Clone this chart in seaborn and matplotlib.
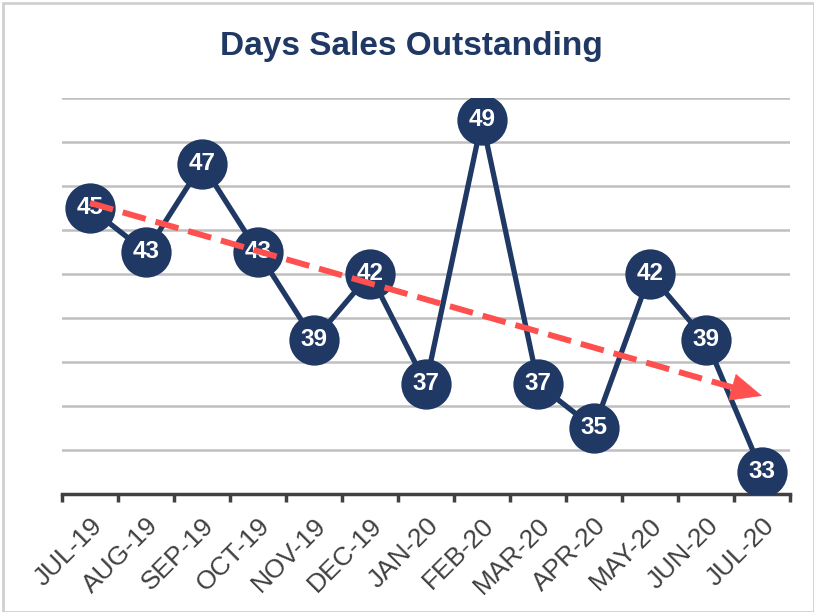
import numpy as np
import pandas as pd
import matplotlib
matplotlib.use('Agg')
import matplotlib.pyplot as plt
import seaborn as sns

months = ['JUL-19', 'AUG-19', 'SEP-19', 'OCT-19', 'NOV-19', 'DEC-19', 'JAN-20',
          'FEB-20', 'MAR-20', 'APR-20', 'MAY-20', 'JUN-20', 'JUL-20']
dso = [45, 43, 47, 43, 39, 42, 37, 49, 37, 35, 42, 39, 33]

navy = '#1F3864'
red = '#FF5050'

sns.set_theme(style='white')
plt.rcParams['font.family'] = ['Liberation Sans', 'DejaVu Sans']

df = pd.DataFrame({'month': months, 'dso': dso})
df['pos'] = np.arange(len(months))

fig = plt.figure(figsize=(8.14, 6.12), dpi=100)
ax = fig.add_axes([62 / 814, 1 - 494 / 612, 728 / 814, 396 / 612])

ax.set_ylim(32, 50)
ax.set_xlim(-0.5, len(months) - 0.5)
ax.set_yticks(np.arange(34, 51, 2))
ax.yaxis.grid(True, color='#BFBFBF', linewidth=1.8)
ax.set_axisbelow(True)

sns.lineplot(data=df, x='pos', y='dso', ax=ax, color=navy, linewidth=3.8,
             marker='o', markersize=35, markeredgecolor=navy, markeredgewidth=1.2,
             zorder=3)

for x, y in zip(df['pos'], df['dso']):
    ax.text(x, y, str(y), ha='center', va='center', color='white',
            fontsize=17.5, fontweight='bold', zorder=4)

# linear trend line: dashed body + solid arrow head
slope, intercept = np.polyfit(df['pos'], df['dso'], 1)
x0, x1 = df['pos'].iloc[0], df['pos'].iloc[-1]
xe = x1 - 0.4
ax.plot([x0, xe], [slope * x0 + intercept, slope * xe + intercept], color=red,
        lw=4.3, linestyle=(0, (4, 1.7)), solid_capstyle='butt', zorder=5)
ax.annotate('', xy=(x1, slope * x1 + intercept), xytext=(xe, slope * xe + intercept),
            arrowprops=dict(arrowstyle='-|>,head_length=1.8,head_width=0.8', color=red,
                            lw=0.5, shrinkA=0, shrinkB=0),
            zorder=5)

for s in ['left', 'right', 'top']:
    ax.spines[s].set_visible(False)
ax.spines['bottom'].set_color('#404040')
ax.spines['bottom'].set_linewidth(2.5)

ax.set_xticks(df['pos'])
ax.set_xticklabels(months, rotation=45, ha='right', rotation_mode='anchor',
                   fontsize=19, color='#404040')
ax.set_xticks(np.arange(-0.5, len(months), 1), minor=True)
ax.tick_params(axis='x', which='major', length=0, pad=14)
ax.tick_params(axis='x', which='minor', length=6, width=2.5, color='#404040',
               direction='out', bottom=True)
ax.tick_params(axis='y', left=False, labelleft=False)
ax.set_xlabel('')
ax.set_ylabel('')

fig.text(0.505, 1 - 46 / 612, 'Days Sales Outstanding', ha='center', va='center',
         fontsize=24, fontweight='bold', color=navy)

fig.patches.append(plt.Rectangle((0.004, 0.0), 0.996, 0.995, transform=fig.transFigure,
                                 fill=False, edgecolor='#D0D0D0', linewidth=2))

fig.savefig('out.png', dpi=100)
